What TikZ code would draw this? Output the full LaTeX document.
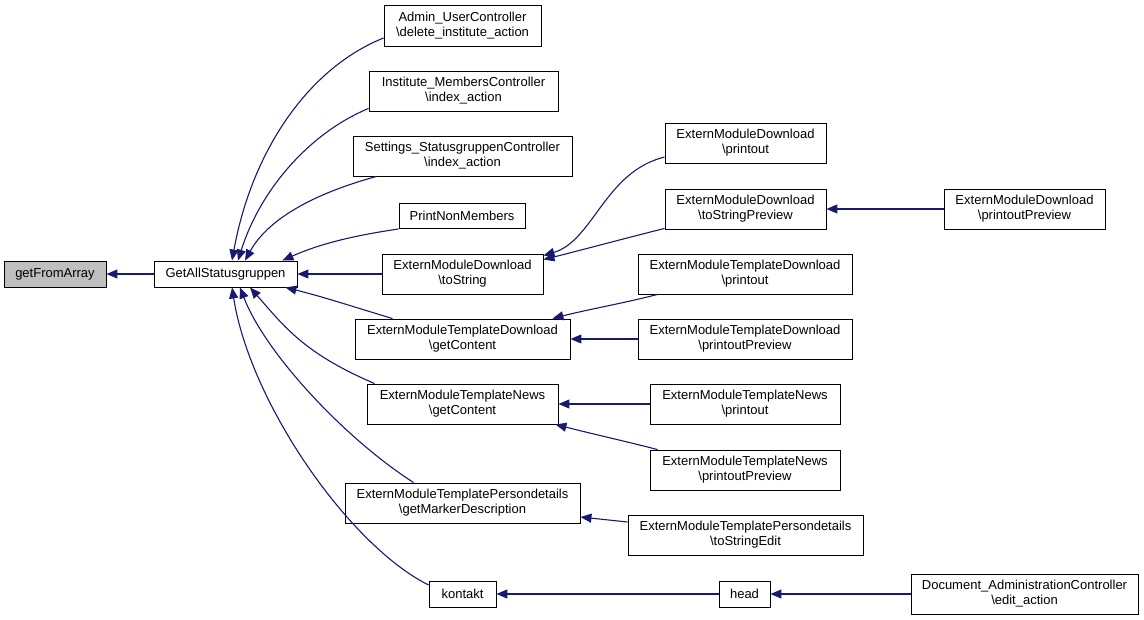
\documentclass[tikz,border=0pt]{standalone}
\usepackage{fontspec}
\setmainfont{Liberation Sans}
\usetikzlibrary{arrows.meta}
\definecolor{edgeblue}{HTML}{191970}
\definecolor{hlgray}{HTML}{BFBFBF}
\begin{document}
\begin{tikzpicture}[x=1pt,y=-1pt,
  box/.style={draw=black, line width=0.9pt, fill=white, inner sep=0pt, align=center,
    font=\fontsize{13}{15}\selectfont},
  edge/.style={draw=edgeblue, line width=1.1pt, {Triangle[length=11pt,width=9pt]}-}]
\useasboundingbox (0,0) rectangle (1144,620);
% nodes
\node[box, fill=hlgray, minimum width=102pt, minimum height=26pt] (gfa) at (55,274) {getFromArray};
\node[box, minimum width=143pt, minimum height=26pt] (gas) at (225.5,274) {GetAllStatusgruppen};
\node[box, minimum width=157pt, minimum height=41pt] (admin) at (462.5,25.5) {Admin\_UserController\\\textbackslash delete\_institute\_action};
\node[box, minimum width=189pt, minimum height=40pt] (inst) at (463.5,91) {Institute\_MembersController\\\textbackslash index\_action};
\node[box, minimum width=219pt, minimum height=40pt] (sett) at (462.5,156) {Settings\_StatusgruppenController\\\textbackslash index\_action};
\node[box, minimum width=126pt, minimum height=25pt] (pnm) at (462,216) {PrintNonMembers};
\node[box, minimum width=161pt, minimum height=40pt] (tostr) at (462.5,274) {ExternModuleDownload\\\textbackslash toString};
\node[box, minimum width=215pt, minimum height=40pt] (emtdgc) at (462.5,339) {ExternModuleTemplateDownload\\\textbackslash getContent};
\node[box, minimum width=191pt, minimum height=40pt] (emtngc) at (462.5,404) {ExternModuleTemplateNews\\\textbackslash getContent};
\node[box, minimum width=235pt, minimum height=40pt] (emtpgm) at (462.5,503) {ExternModuleTemplatePersondetails\\\textbackslash getMarkerDescription};
\node[box, minimum width=67pt, minimum height=26pt] (kontakt) at (462.5,594) {kontakt};
\node[box, minimum width=161pt, minimum height=40pt] (emdp) at (745.5,143) {ExternModuleDownload\\\textbackslash printout};
\node[box, minimum width=161pt, minimum height=40pt] (emdtsp) at (745.5,209) {ExternModuleDownload\\\textbackslash toStringPreview};
\node[box, minimum width=161pt, minimum height=40pt] (emdpp) at (1024.5,209) {ExternModuleDownload\\\textbackslash printoutPreview};
\node[box, minimum width=214pt, minimum height=40pt] (emtdp) at (745,274) {ExternModuleTemplateDownload\\\textbackslash printout};
\node[box, minimum width=214pt, minimum height=40pt] (emtdpp) at (745,339) {ExternModuleTemplateDownload\\\textbackslash printoutPreview};
\node[box, minimum width=190pt, minimum height=40pt] (emtnp) at (745,404) {ExternModuleTemplateNews\\\textbackslash printout};
\node[box, minimum width=190pt, minimum height=40pt] (emtnpp) at (745,470) {ExternModuleTemplateNews\\\textbackslash printoutPreview};
\node[box, minimum width=235pt, minimum height=40pt] (emtpte) at (745.5,535) {ExternModuleTemplatePersondetails\\\textbackslash toStringEdit};
\node[box, minimum width=51pt, minimum height=26pt] (head) at (744.5,594) {head};
\node[box, minimum width=227pt, minimum height=40pt] (dac) at (1024.5,594) {Document\_AdministrationController\\\textbackslash edit\_action};
% edges
\draw[edge] (gfa.east) -- (gas.west);
\draw[edge] ([xshift=6.5pt]gas.north) .. controls +(20,-110) and +(-75,30) .. ([yshift=-12.5pt]admin.west);
\draw[edge] ([xshift=12.5pt]gas.north) .. controls +(22,-70) and +(-60,25) .. ([yshift=3pt]inst.south west);
\draw[edge] ([xshift=19.5pt]gas.north) .. controls +(25,-45) and +(-55,15) .. ([xshift=24pt]sett.south west);
\draw[edge] ([xshift=-15pt]gas.north east) .. controls +(40,-18) and +(-40,6) .. (pnm.south west);
\draw[edge] (gas.east) -- (tostr.west);
\draw[edge] ([xshift=-12pt]gas.south east) .. controls +(40,10) and +(-40,-12) .. ([xshift=38pt]emtdgc.north west);
\draw[edge] ([xshift=24.5pt]gas.south) .. controls +(35,40) and +(-70,-30) .. ([xshift=8pt]emtngc.north west);
\draw[edge] ([xshift=14.5pt]gas.south) .. controls +(25,65) and +(-70,-45) .. ([xshift=69pt]emtpgm.north west);
\draw[edge] ([xshift=6.5pt]gas.south) .. controls +(18,115) and +(-80,-40) .. ([yshift=9pt]kontakt.west);
\draw[edge] ([yshift=-2pt]tostr.north east) .. controls +(50,-15) and +(-60,15) .. ([yshift=-14pt]emdp.west);
\draw[edge] ([yshift=-6pt]tostr.north east) .. controls +(40,-10) and +(-40,10) .. ([yshift=1pt]emdtsp.south west);
\draw[edge] (emdtsp.east) -- (emdpp.west);
\draw[edge] ([xshift=-18pt]emtdgc.north east) .. controls +(35,-9) and +(-35,9) .. ([xshift=20pt]emtdp.south west);
\draw[edge] (emtdgc.east) -- (emtdpp.west);
\draw[edge] (emtngc.east) -- (emtnp.west);
\draw[edge] ([xshift=-3pt]emtngc.south east) .. controls +(35,9) and +(-35,-9) .. ([xshift=8pt]emtnpp.north west);
\draw[edge] ([yshift=-14pt]emtpgm.east) -- ([yshift=13pt]emtpte.west);
\draw[edge] (kontakt.east) -- (head.west);
\draw[edge] (head.east) -- (dac.west);
\end{tikzpicture}
\end{document}
